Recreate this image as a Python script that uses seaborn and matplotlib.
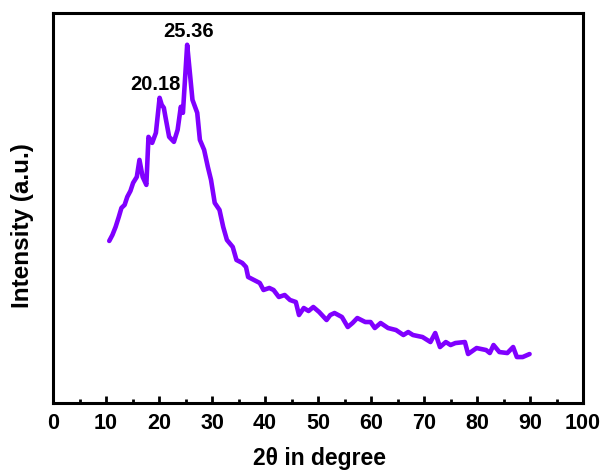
import pandas as pd
import matplotlib.pyplot as plt
import seaborn as sns
from matplotlib.ticker import MultipleLocator

# XRD pattern (intensity in arbitrary units)
two_theta = [10.6, 11.2, 11.8, 12.4, 12.9, 13.5, 14.0, 14.6, 15.1, 15.8,
             16.3, 16.9, 17.6, 18.0, 18.7, 19.4, 20.1, 20.5, 20.9, 21.2,
             21.9, 22.8, 23.5, 24.1, 24.5, 25.3, 25.7, 26.3, 27.2, 27.7,
             28.5, 29.2, 29.8, 30.5, 31.4, 32.1, 32.8, 33.9, 34.6, 35.7,
             36.4, 36.8, 37.9, 39.0, 39.7, 40.8, 41.6, 42.6, 43.7, 44.7,
             45.8, 46.4, 47.3, 48.2, 49.1, 50.2, 51.6, 52.3, 53.1, 54.5,
             55.6, 56.5, 57.4, 58.9, 59.9, 60.7, 61.8, 63.2, 64.7, 66.1,
             67.0, 67.9, 69.7, 71.2, 72.1, 73.0, 74.1, 75.0, 75.9, 77.7,
             78.3, 79.9, 81.7, 82.4, 83.1, 84.2, 85.7, 86.8, 87.5, 88.6,
             89.9]
intensity = [162, 168, 176, 186, 195, 198, 206, 212, 220, 226,
             243, 226, 218, 266, 260, 270, 305, 298, 295, 286,
             266, 261, 273, 296, 290, 358, 336, 303, 290, 263,
             253, 236, 223, 200, 193, 176, 163, 156, 143, 140,
             136, 126, 123, 120, 113, 115, 113, 106, 108, 103,
             101, 88, 95, 92, 96, 91, 83, 88, 90, 86,
             76, 80, 85, 81, 81, 75, 80, 75, 73, 68,
             71, 68, 66, 61, 70, 56, 61, 58, 60, 61,
             49, 55, 53, 50, 58, 51, 50, 56, 46, 46,
             49]

peak_labels = ["20.18", "25.36"]
peak_x = [19.4, 25.5]
peak_y = [318, 371]

df = pd.DataFrame({"two_theta": two_theta, "intensity": intensity})

sns.set_style("ticks")
plt.rcParams['font.family'] = ['Liberation Sans', 'DejaVu Sans']
plt.rcParams['font.weight'] = 'bold'
plt.rcParams['text.color'] = 'black'
plt.rcParams['axes.labelcolor'] = 'black'
plt.rcParams['xtick.color'] = 'black'

fig = plt.figure(figsize=(6.03, 4.72), dpi=100)
ax = fig.add_axes([0.088, 0.146, 0.879, 0.827])

sns.lineplot(data=df, x="two_theta", y="intensity", ax=ax,
             color="#8000ff", linewidth=3.3)

for lab, px, py in zip(peak_labels, peak_x, peak_y):
    ax.text(px, py, lab, ha="center", va="center", fontsize=14.5,
            fontweight="bold", color="black")

ax.set_xlim(0, 100)
ax.set_ylim(0, 390)
ax.xaxis.set_major_locator(MultipleLocator(10))
ax.xaxis.set_minor_locator(MultipleLocator(5))
ax.tick_params(axis="x", which="major", direction="in", length=5, width=2,
               labelsize=15.5, pad=7)
ax.tick_params(axis="x", which="minor", direction="in", length=3, width=2)
ax.set_yticks([])
for lab in ax.get_xticklabels():
    lab.set_fontweight("bold")

for sp in ax.spines.values():
    sp.set_linewidth(2.2)
    sp.set_color("black")

ax.set_xlabel("2θ in degree", fontsize=16.5, fontweight="bold")
ax.set_ylabel("Intensity (a.u.)", fontsize=17.5, fontweight="bold")
ax.xaxis.set_label_coords(0.502, -0.112)
ax.yaxis.set_label_coords(-0.036, 0.455)

fig.savefig("out.png", dpi=100)
